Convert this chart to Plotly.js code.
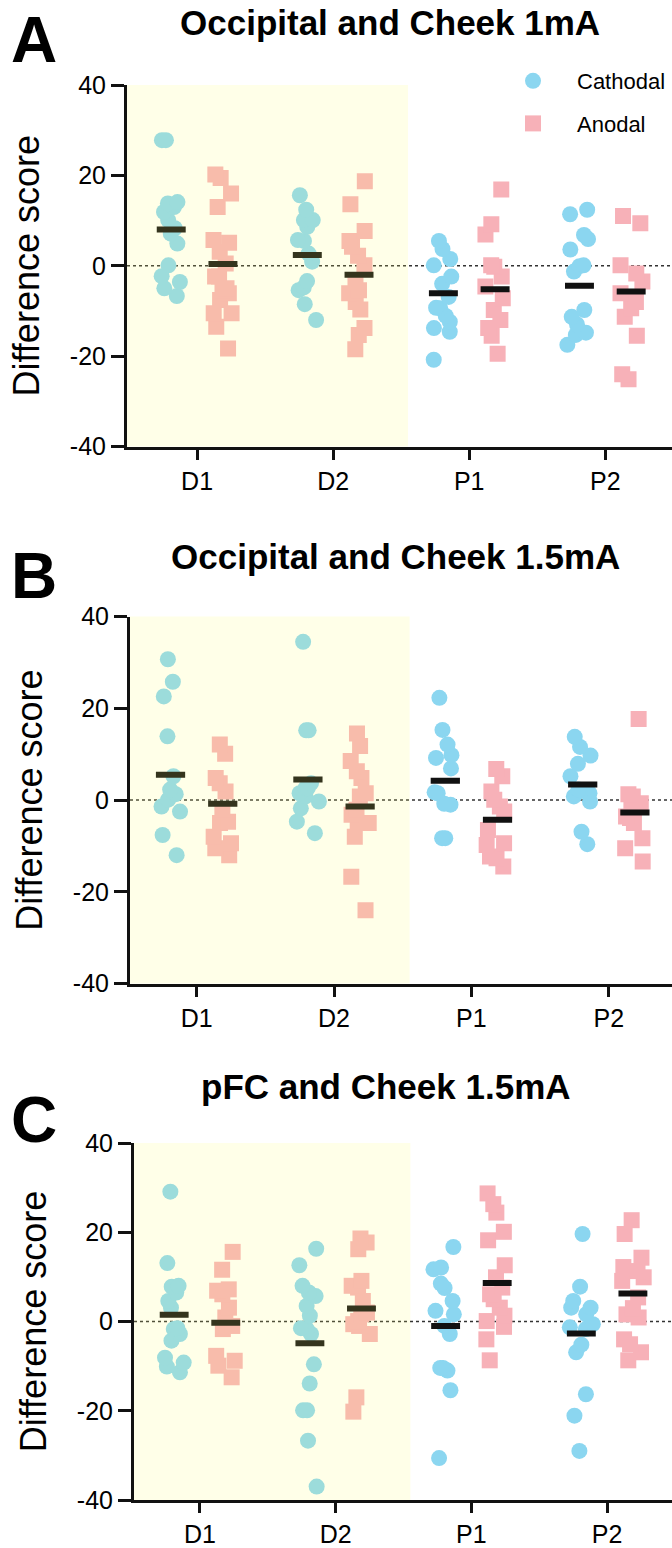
<!DOCTYPE html>
<html>
<head>
<meta charset="utf-8">
<script src="https://cdn.plot.ly/plotly-3.0.1.min.js"></script>
<style>html,body{margin:0;padding:0;background:#fff;}</style>
</head>
<body>
<div id="chart" style="width:672px;height:1548px;"></div>
<script>
// ---------- DATA ----------
const categories = ['D1', 'D2', 'P1', 'P2'];
const seriesNames = ['Cathodal', 'Anodal'];
const panelTitles = ['Occipital and Cheek 1mA', 'Occipital and Cheek 1.5mA', 'pFC and Cheek 1.5mA'];
const panelLetters = ['A', 'B', 'C'];
const yTicks = [-40, -20, 0, 20, 40];

// Panel A: Occipital and Cheek 1mA
const occ1CathD1 = [27.8, 27.8, 14.1, 13.8, 13.0, 11.9, 10.1, 8.3, 7.1, 4.9, 0.1, -2.3, -3.6, -5.0, -6.7];
const occ1CathD2 = [15.6, 12.4, 10.1, 10.1, 8.6, 5.7, 5.5, 2.7, 0.9, -3.4, -4.8, -5.4, -8.5, -12.0];
const occ1CathP1 = [5.5, 3.7, 1.5, 0.1, -2.4, -4.0, -6.9, -9.3, -9.4, -11.1, -12.4, -13.8, -14.6, -20.8];
const occ1CathP2 = [12.4, 11.4, 6.8, 5.9, 3.6, 0.1, -0.1, -1.3, -9.8, -11.3, -13.0, -14.8, -15.3, -17.5];
const occ1AnoD1 = [20.2, 19.4, 16.0, 13.0, 5.7, 5.1, 3.1, 0.5, -2.4, -2.4, -5.0, -5.4, -6.1, -7.6, -10.5, -10.5, -13.5, -18.3];
const occ1AnoD2 = [18.7, 13.6, 7.7, 5.5, 4.2, 2.2, 0.1, -3.5, -5.4, -6.1, -8.0, -9.7, -13.8, -15.3, -18.5];
const occ1AnoP1 = [16.9, 9.2, 6.9, 0.1, -0.2, -2.4, -4.6, -7.2, -9.8, -12.0, -13.8, -15.5, -19.5];
const occ1AnoP2 = [11.0, 9.4, 0.1, -1.7, -3.5, -6.1, -8.0, -9.4, -11.3, -15.5, -24.0, -25.1];
const occ1CathMean = [8.0, 2.4, -6.1, -4.4];
const occ1AnoMean = [0.4, -2.0, -5.2, -5.7];

// Panel B: Occipital and Cheek 1.5mA
const occ15CathD1 = [30.7, 25.8, 22.6, 13.9, 5.2, 2.3, 1.3, 0.1, -1.4, -2.5, -7.6, -12.0];
const occ15CathD2 = [34.5, 15.2, 15.2, 3.7, 2.6, 2.6, 1.5, 0.8, -0.3, -1.8, -4.7, -7.2];
const occ15CathP1 = [22.3, 15.3, 12.1, 9.8, 9.2, 6.9, 1.7, 1.5, -0.8, -1.0, -8.3, -8.3];
const occ15CathP2 = [13.8, 11.6, 9.7, 7.9, 5.2, 2.3, 2.0, 1.5, 0.8, -0.3, -6.9, -9.6];
const occ15AnoD1 = [12.1, 10.1, 4.8, 3.7, 1.9, -2.1, -4.7, -5.0, -8.0, -9.4, -10.5, -12.0];
const occ15AnoD2 = [14.5, 11.8, 8.5, 6.3, 4.8, 1.5, 0.8, -2.1, -3.2, -5.0, -5.0, -8.0, -16.7, -24.0];
const occ15AnoP1 = [6.8, 5.2, 1.9, 0.1, -1.4, -2.5, -6.5, -9.4, -9.8, -12.3, -12.7, -14.5];
const occ15AnoP2 = [17.7, 1.3, 0.8, -0.7, -2.1, -3.6, -3.9, -5.0, -8.3, -10.5, -13.4];
const occ15CathMean = [5.5, 4.5, 4.2, 3.4];
const occ15AnoMean = [-0.8, -1.4, -4.3, -2.7];

// Panel C: pFC and Cheek 1.5mA
const pfcCathD1 = [29.1, 13.1, 8.0, 7.8, 6.5, 4.6, 3.1, -1.5, -1.7, -2.8, -4.3, -8.1, -9.2, -10.1, -11.4];
const pfcCathD2 = [16.3, 12.6, 8.0, 6.5, 5.7, 3.5, 1.3, -1.5, -1.7, -2.8, -9.6, -13.9, -19.9, -19.9, -26.7, -37.0];
const pfcCathP1 = [16.7, 12.1, 11.7, 8.5, 7.5, 4.6, 2.4, 1.6, -1.0, -2.8, -10.4, -10.4, -11.0, -15.4, -30.6];
const pfcCathP2 = [19.6, 7.8, 4.6, 3.1, 3.1, 1.6, -0.6, -1.3, -1.7, -5.2, -6.9, -16.3, -21.1, -29.0];
const pfcAnoD1 = [15.6, 11.6, 7.2, 6.9, 6.1, 3.1, 0.9, -1.0, -1.7, -7.7, -8.8, -9.9, -12.5];
const pfcAnoD2 = [18.6, 17.7, 16.2, 9.1, 8.0, 7.6, 4.6, 2.0, 1.6, 0.1, -0.6, -1.0, -2.8, -17.0, -20.2];
const pfcAnoP1 = [28.7, 26.3, 24.4, 20.1, 18.2, 12.6, 9.9, 7.6, 6.1, 5.0, 3.1, 1.3, 0.1, -1.2, -4.0, -8.7];
const pfcAnoP2 = [22.7, 19.6, 14.3, 12.2, 11.3, 9.9, 9.1, 5.4, 3.0, 1.6, 0.9, -4.0, -5.1, -6.9, -8.7];
const pfcCathMean = [1.5, -4.9, -1.0, -2.7];
const pfcAnoMean = [-0.3, 2.9, 8.6, 6.3];

// ---------- ASSEMBLY ----------
const panels = [
  {cath: [occ1CathD1, occ1CathD2, occ1CathP1, occ1CathP2], ano: [occ1AnoD1, occ1AnoD2, occ1AnoP1, occ1AnoP2], cathMean: occ1CathMean, anoMean: occ1AnoMean},
  {cath: [occ15CathD1, occ15CathD2, occ15CathP1, occ15CathP2], ano: [occ15AnoD1, occ15AnoD2, occ15AnoP1, occ15AnoP2], cathMean: occ15CathMean, anoMean: occ15AnoMean},
  {cath: [pfcCathD1, pfcCathD2, pfcCathP1, pfcCathP2], ano: [pfcAnoD1, pfcAnoD2, pfcAnoP1, pfcAnoP2], cathMean: pfcCathMean, anoMean: pfcAnoMean}
];

const H = 1548, W = 672;
const CATH = '#8bd6f0';
const ANO = '#f7b1b8';
const FONT = 'Liberation Sans, Arial, Helvetica, sans-serif';

// layout geometry (pixels)
const geom = [
  {left: 127, top: 85, bottom: 446.5, xr: [-0.515, 3.49], titleY: 23, titleX: 390, letterY: 40},
  {left: 130, top: 616.6, bottom: 983.6, xr: [-0.485, 3.46], titleY: 556, titleX: 395, letterY: 576},
  {left: 134, top: 1143, bottom: 1500, xr: [-0.486, 3.478], titleY: 1086, titleX: 386, letterY: 1120}
];

function flatten(groups) {
  const xs = [], ys = [];
  groups.forEach((g, i) => g.forEach(v => { xs.push(categories[i]); ys.push(v); }));
  return {xs, ys};
}

const traces = [];
const layout = {
  width: W, height: H,
  margin: {l: 0, r: 0, t: 0, b: 0},
  paper_bgcolor: '#ffffff',
  plot_bgcolor: 'rgba(0,0,0,0)',
  font: {family: FONT, color: '#000'},
  boxmode: 'group',
  boxgap: 0.24,
  boxgroupgap: 0.44,
  showlegend: true,
  legend: {
    x: 489 / W, xanchor: 'left', y: 1 - 60 / H, yanchor: 'top',
    bgcolor: 'rgba(0,0,0,0)', font: {size: 22, family: FONT},
    tracegroupgap: 11, itemwidth: 78, traceorder: 'grouped'
  },
  shapes: [],
  annotations: []
};

panels.forEach((p, i) => {
  const sfx = i === 0 ? '' : String(i + 1);
  const xa = 'x' + sfx, ya = 'y' + sfx;
  const g = geom[i];
  const c = flatten(p.cath), a = flatten(p.ano);
  const common = {
    type: 'box', xaxis: xa, yaxis: ya, boxpoints: 'all', jitter: 0.85, pointpos: 0,
    alignmentgroup: 'grp' + i, line: {width: 0, color: 'rgba(0,0,0,0)'},
    fillcolor: 'rgba(0,0,0,0)', showlegend: false, hoveron: 'points'
  };
  traces.push(Object.assign({}, common, {name: seriesNames[0], x: c.xs, y: c.ys, offsetgroup: 'cath',
    marker: {symbol: 'circle', size: 16, color: CATH, line: {width: 0}}}));
  traces.push(Object.assign({}, common, {name: seriesNames[1], x: a.xs, y: a.ys, offsetgroup: 'ano',
    marker: {symbol: 'square', size: 16, color: ANO, line: {width: 0}}}));
  [[p.cathMean, 'cath'], [p.anoMean, 'ano']].forEach(([m, og]) => {
    traces.push({
      type: 'box', xaxis: xa, yaxis: ya, x: categories, q1: m, median: m, q3: m,
      lowerfence: m, upperfence: m, offsetgroup: og, alignmentgroup: 'grp' + i,
      boxpoints: false, line: {width: 6, color: '#111111'}, fillcolor: '#111111',
      whiskerwidth: 0, showlegend: false, name: 'Mean', hoverinfo: 'y'
    });
  });

  layout['xaxis' + sfx] = {
    domain: [g.left / W, 1], anchor: ya, type: 'category', categoryorder: 'array',
    categoryarray: categories, range: g.xr, showline: true, linewidth: 3, linecolor: '#111',
    ticks: 'outside', ticklen: 10, tickwidth: 3, tickcolor: '#111',
    tickfont: {size: 25, family: FONT, color: '#000'}, showgrid: false, zeroline: false, fixedrange: true
  };
  layout['yaxis' + sfx] = {
    domain: [1 - g.bottom / H, 1 - g.top / H], anchor: xa, range: [-40, 40],
    tickvals: yTicks, ticktext: yTicks.map(String), showline: true, linewidth: 3, linecolor: '#111',
    ticks: 'outside', ticklen: 13, tickwidth: 3, tickcolor: '#111',
    tickfont: {size: 25, family: FONT, color: '#000'}, showgrid: false, zeroline: false,
    automargin: false, fixedrange: true,
    title: {text: 'Difference score', font: {size: 36, family: FONT, color: '#000'}, standoff: 20}
  };

  // yellow shading over D1, D2
  layout.shapes.push({
    type: 'rect', xref: xa, yref: ya + ' domain', x0: g.xr[0], x1: 1.55, y0: 0, y1: 1,
    fillcolor: 'rgb(255,255,100)', opacity: 0.15, line: {width: 0}, layer: 'above'
  });
  // dotted zero line
  layout.shapes.push({
    type: 'line', xref: xa + ' domain', yref: ya, x0: 0, x1: 1, y0: 0, y1: 0,
    line: {color: '#333', width: 1.5, dash: 'dot'}, layer: 'below'
  });

  layout.annotations.push({
    text: '<b>' + panelTitles[i] + '</b>', xref: 'paper', yref: 'paper',
    x: g.titleX / W, y: 1 - g.titleY / H, xanchor: 'center', yanchor: 'middle',
    showarrow: false, font: {size: 35, family: FONT, color: '#000'}
  });
  layout.annotations.push({
    text: '<b>' + panelLetters[i] + '</b>', xref: 'paper', yref: 'paper',
    x: 34 / W, y: 1 - g.letterY / H, xanchor: 'center', yanchor: 'middle',
    showarrow: false, font: {size: 64, family: 'Liberation Sans Narrow, ' + FONT, color: '#000'}
  });
});

// legend entries
traces.push({type: 'scatter', mode: 'markers', x: [null], y: [null], name: seriesNames[0], legendgroup: 'c',
  marker: {symbol: 'circle', size: 16, color: CATH}, xaxis: 'x', yaxis: 'y', hoverinfo: 'skip'});
traces.push({type: 'scatter', mode: 'markers', x: [null], y: [null], name: seriesNames[1], legendgroup: 'a',
  marker: {symbol: 'square', size: 16, color: ANO}, xaxis: 'x', yaxis: 'y', hoverinfo: 'skip'});

Plotly.newPlot('chart', traces, layout, {staticPlot: true, displayModeBar: false});
</script>
</body>
</html>
